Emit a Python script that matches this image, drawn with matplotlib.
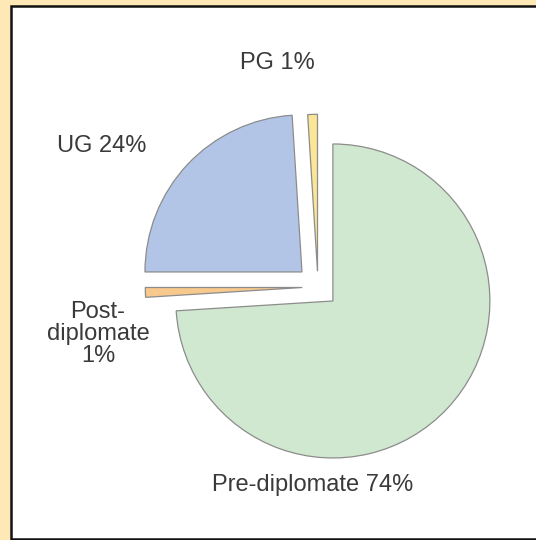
#!/usr/bin/env python3
"""Exploded pie: distribution by qualification level."""
import matplotlib
matplotlib.use("Agg")
import matplotlib.pyplot as plt
import matplotlib.patches as mpatches

# data, clockwise from 12 o'clock
labels = ["Pre-diplomate", "Post-diplomate", "UG", "PG"]
shares = [74, 1, 24, 1]

COLORS = ["#cfe8cf", "#f7c98c", "#b3c5e6", "#fbe596"]
EXPLODE = [0.13, 0.10, 0.14, 0.10]  # fraction of radius
BG = "#fee9b6"
INK = "#3a3a3a"

W, H = 536, 540
R = 157
fig = plt.figure(figsize=(W / 100, H / 100), dpi=100, facecolor=BG)
ax = fig.add_axes([0, 0, 1, 1])

# white panel with dark frame
ax.add_patch(mpatches.Rectangle((11, 1), 560, 533, facecolor="white",
                                edgecolor="#111111", linewidth=1.8, zorder=0))

# pie() offsets wedges in data units, so scale explode by the radius
ax.pie(shares, colors=COLORS, explode=[e * R for e in EXPLODE], startangle=90,
       counterclock=False, center=(318, H - 287), radius=R,
       wedgeprops=dict(edgecolor="#8c8c8c", linewidth=0.9),
       frame=True)
ax.set_xlim(0, W)
ax.set_ylim(0, H)
ax.set_aspect("equal")
ax.axis("off")

txt = dict(fontsize=17, color=INK, family=["Liberation Sans", "DejaVu Sans"],
           ha="center", va="center")
ax.text(313, H - 485, f"{labels[0]} {shares[0]}%", **txt)
ax.text(98, H - 334, f"Post-\ndiplomate\n{shares[1]}%", linespacing=1.0, **txt)
ax.text(102, H - 146, f"{labels[2]} {shares[2]}%", **txt)
ax.text(277, H - 63, f"{labels[3]} {shares[3]}%", **txt)

fig.savefig("out.png", dpi=100, facecolor=BG)
